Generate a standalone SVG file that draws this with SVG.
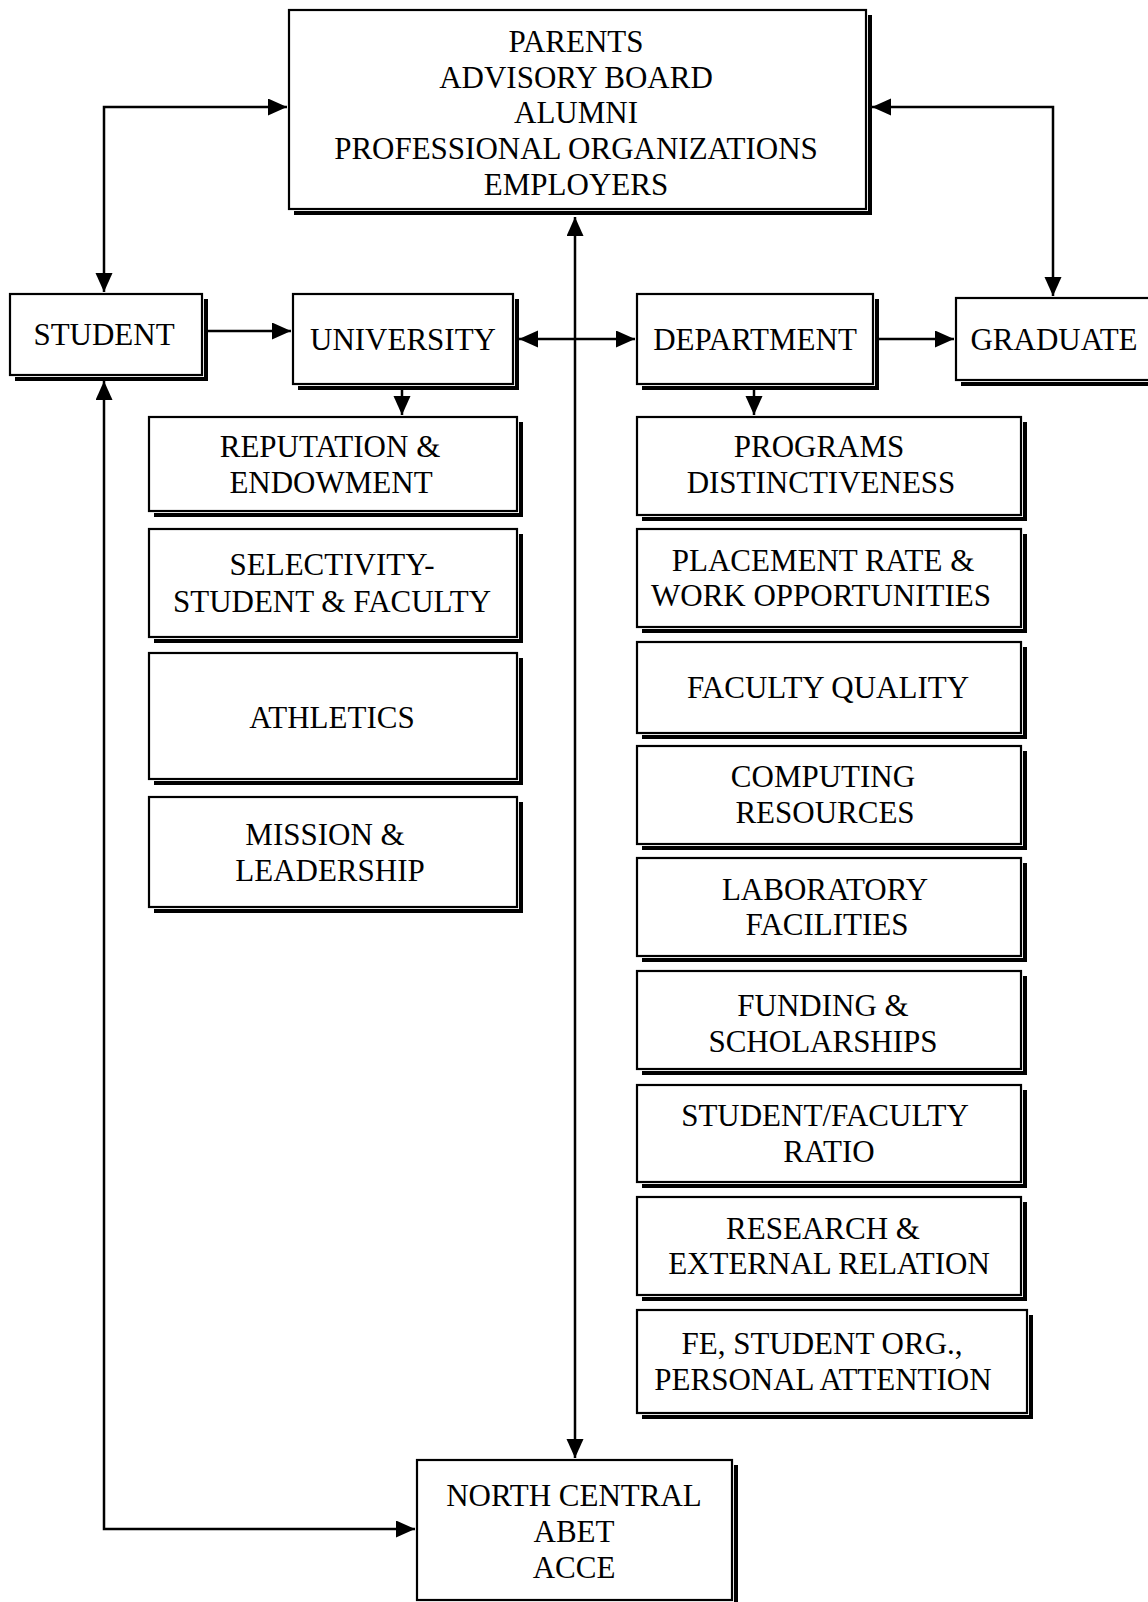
<svg xmlns="http://www.w3.org/2000/svg" width="1148" height="1602" viewBox="0 0 1148 1602">
<style>
.box{fill:#fff;stroke:#000;stroke-width:2.2}
.sh{fill:none;stroke:#000;stroke-width:4}
.t{font-family:"Liberation Serif","Times New Roman",serif;font-size:31px;fill:#000;text-anchor:middle;dominant-baseline:central}
.c{fill:none;stroke:#000;stroke-width:2.5}
</style>
<defs>
<marker id="ah" markerUnits="userSpaceOnUse" markerWidth="20" markerHeight="18" refX="19" refY="8.5" orient="auto-start-reverse" viewBox="0 0 20 18">
<path d="M0,0 L19,8.5 L0,17 z" fill="#000"/>
</marker>
</defs>
<rect width="1148" height="1602" fill="#fff"/>
<g id="connectors">
<path class="c" d="M575,1458 V217" marker-start="url(#ah)" marker-end="url(#ah)"/>
<path class="c" d="M104,292 V107 H287" marker-start="url(#ah)" marker-end="url(#ah)"/>
<path class="c" d="M872,107 H1053 V296" marker-start="url(#ah)" marker-end="url(#ah)"/>
<path class="c" d="M207,331 H291" marker-end="url(#ah)"/>
<path class="c" d="M519,339 H635" marker-start="url(#ah)" marker-end="url(#ah)"/>
<path class="c" d="M879,339 H954" marker-end="url(#ah)"/>
<path class="c" d="M402,389 V415" marker-end="url(#ah)"/>
<path class="c" d="M754,389 V415" marker-end="url(#ah)"/>
<path class="c" d="M104,381 V1529 H415" marker-start="url(#ah)" marker-end="url(#ah)"/>
</g>
<g id="top">
<path class="sh" d="M870,15 V213 H294"/>
<rect class="box" x="289" y="10" width="577" height="199"/>
<text class="t" x="576" y="41">PARENTS</text>
<text class="t" x="576" y="77">ADVISORY BOARD</text>
<text class="t" x="576" y="112">ALUMNI</text>
<text class="t" x="576" y="148">PROFESSIONAL ORGANIZATIONS</text>
<text class="t" x="576" y="184">EMPLOYERS</text>
</g>
<g id="student">
<path class="sh" d="M206,299 V379 H15"/>
<rect class="box" x="10" y="294" width="192" height="81"/>
<text class="t" x="104" y="334">STUDENT</text>
</g>
<g id="university">
<path class="sh" d="M517,299 V388 H298"/>
<rect class="box" x="293" y="294" width="220" height="90"/>
<text class="t" x="403" y="339">UNIVERSITY</text>
</g>
<g id="department">
<path class="sh" d="M877,299 V388 H642"/>
<rect class="box" x="637" y="294" width="236" height="90"/>
<text class="t" x="755" y="339">DEPARTMENT</text>
</g>
<g id="graduate">
<path class="sh" d="M1154,303 V384 H961"/>
<rect class="box" x="956" y="298" width="194" height="82"/>
<text class="t" x="1054" y="339">GRADUATE</text>
</g>
<g id="reputation">
<path class="sh" d="M521,422 V515 H154"/>
<rect class="box" x="149" y="417" width="368" height="94"/>
<text class="t" x="330" y="446">REPUTATION &amp;</text>
<text class="t" x="331" y="482">ENDOWMENT</text>
</g>
<g id="selectivity">
<path class="sh" d="M521,534 V641 H154"/>
<rect class="box" x="149" y="529" width="368" height="108"/>
<text class="t" x="332" y="564">SELECTIVITY-</text>
<text class="t" x="332" y="601">STUDENT &amp; FACULTY</text>
</g>
<g id="athletics">
<path class="sh" d="M521,658 V783 H154"/>
<rect class="box" x="149" y="653" width="368" height="126"/>
<text class="t" x="332" y="717">ATHLETICS</text>
</g>
<g id="mission">
<path class="sh" d="M521,802 V911 H154"/>
<rect class="box" x="149" y="797" width="368" height="110"/>
<text class="t" x="325" y="834">MISSION &amp;</text>
<text class="t" x="330" y="870">LEADERSHIP</text>
</g>
<g id="programs">
<path class="sh" d="M1025,422 V519 H642"/>
<rect class="box" x="637" y="417" width="384" height="98"/>
<text class="t" x="819" y="446">PROGRAMS</text>
<text class="t" x="821" y="482">DISTINCTIVENESS</text>
</g>
<g id="placement">
<path class="sh" d="M1025,534 V631 H642"/>
<rect class="box" x="637" y="529" width="384" height="98"/>
<text class="t" x="823" y="560">PLACEMENT RATE &amp;</text>
<text class="t" x="821" y="595">WORK OPPORTUNITIES</text>
</g>
<g id="faculty">
<path class="sh" d="M1025,647 V737 H642"/>
<rect class="box" x="637" y="642" width="384" height="91"/>
<text class="t" x="828" y="687">FACULTY QUALITY</text>
</g>
<g id="computing">
<path class="sh" d="M1025,751 V848 H642"/>
<rect class="box" x="637" y="746" width="384" height="98"/>
<text class="t" x="823" y="776">COMPUTING</text>
<text class="t" x="825" y="812">RESOURCES</text>
</g>
<g id="laboratory">
<path class="sh" d="M1025,863 V960 H642"/>
<rect class="box" x="637" y="858" width="384" height="98"/>
<text class="t" x="825" y="889">LABORATORY</text>
<text class="t" x="827" y="924">FACILITIES</text>
</g>
<g id="funding">
<path class="sh" d="M1025,976 V1073 H642"/>
<rect class="box" x="637" y="971" width="384" height="98"/>
<text class="t" x="823" y="1005">FUNDING &amp;</text>
<text class="t" x="823" y="1041">SCHOLARSHIPS</text>
</g>
<g id="ratio">
<path class="sh" d="M1025,1090 V1186 H642"/>
<rect class="box" x="637" y="1085" width="384" height="97"/>
<text class="t" x="825" y="1115">STUDENT/FACULTY</text>
<text class="t" x="829" y="1151">RATIO</text>
</g>
<g id="research">
<path class="sh" d="M1025,1202 V1299 H642"/>
<rect class="box" x="637" y="1197" width="384" height="98"/>
<text class="t" x="823" y="1228">RESEARCH &amp;</text>
<text class="t" x="829" y="1263">EXTERNAL RELATION</text>
</g>
<g id="fe">
<path class="sh" d="M1031,1315 V1417 H642"/>
<rect class="box" x="637" y="1310" width="390" height="103"/>
<text class="t" x="822" y="1343">FE, STUDENT ORG.,</text>
<text class="t" x="823" y="1379">PERSONAL ATTENTION</text>
</g>
<g id="accreditation">
<path class="sh" d="M736,1465 V1606"/>
<rect class="box" x="417" y="1460" width="315" height="140"/>
<text class="t" x="574" y="1495">NORTH CENTRAL</text>
<text class="t" x="574" y="1531">ABET</text>
<text class="t" x="574" y="1567">ACCE</text>
</g>
</svg>
